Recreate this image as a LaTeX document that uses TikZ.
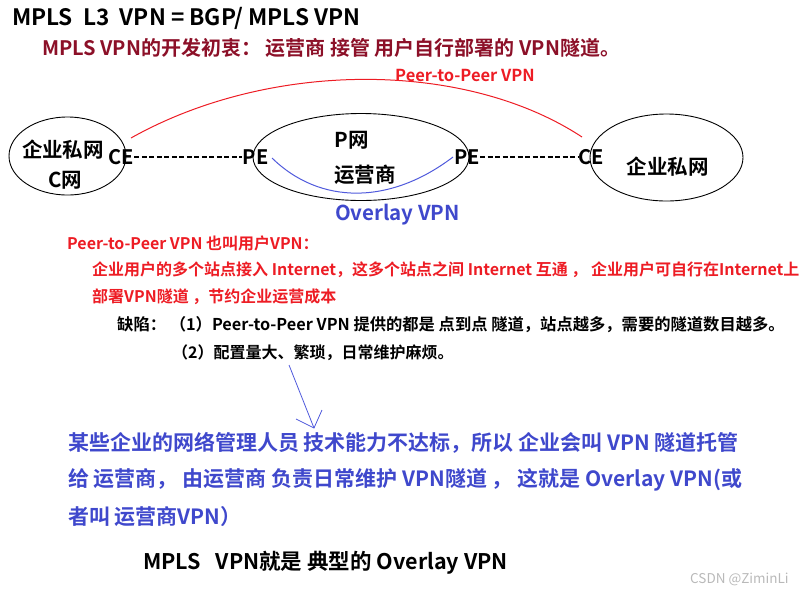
\documentclass[tikz,border=0pt]{standalone}
\usepackage{fontspec}
\setmainfont{Noto Sans CJK SC}[BoldFont={Noto Sans CJK SC Bold}]
\usetikzlibrary{shapes.geometric}
\definecolor{darkred}{RGB}{140,16,40}
\definecolor{pred}{RGB}{237,28,36}
\definecolor{pblue}{RGB}{63,72,204}
\definecolor{cblue}{RGB}{80,90,220}
\definecolor{wm}{RGB}{185,185,185}
\begin{document}
\begin{tikzpicture}[x=1pt,y=-1pt,
  txt/.style={inner sep=0pt,anchor=west,font=\bfseries},
  net/.style={draw,ellipse,line width=0.9pt,inner sep=0pt},
  dev/.style={inner sep=0pt,font=\bfseries\fontsize{20}{22}\selectfont},
  lbl/.style={inner sep=0pt,font=\bfseries\fontsize{20.5}{24}\selectfont},
  link/.style={line width=1.6pt,dash pattern=on 5pt off 2.5pt}]
\useasboundingbox (0,0) rectangle (804,595);
% titles
\node[txt,font=\bfseries\fontsize{22.6}{26}\selectfont] (title) at (12,18) {MPLS\ \ L3\ \ VPN = BGP/ MPLS VPN};
\node[txt,text=darkred,font=\bfseries\fontsize{20}{24}\selectfont] (goal) at (42,48) {MPLS VPN的开发初衷： 运营商 接管 用户自行部署的 VPN隧道。};
% networks
\node[net,minimum width=117pt,minimum height=78pt] (cl) at (67.5,156) {};
\node[net,minimum width=216pt,minimum height=87pt] (pn) at (361,157) {};
\node[net,minimum width=153pt,minimum height=87pt] (cr) at (666.5,157.5) {};
\node[lbl] (cltxt1) at (63,150) {企业私网};
\node[lbl] (cltxt2) at (65,180) {C网};
\node[lbl] (pntxt1) at (351.5,140) {P网};
\node[lbl] (pntxt2) at (365,175) {运营商};
\node[lbl] (crtxt) at (667.5,167) {企业私网};
\node[dev] (ce1) at (121.5,157) {CE};
\node[dev] (pe1) at (255.5,157) {PE};
\node[dev] (pe2) at (467,157) {PE};
\node[dev] (ce2) at (591.5,157) {CE};
\draw[link] (ce1.east) -- (pe1.west);
\draw[link] (pe2.east) -- (ce2.west);
% tunnels
\coordinate (r1) at (131,138);
\coordinate (r2) at (582,137);
\draw[pred,line width=1pt] (r1) .. controls (270,60) and (465,60) .. (r2);
\node[txt,text=pred,font=\bfseries\fontsize{16.5}{19}\selectfont] (p2p) at (395,75) {Peer-to-Peer VPN};
\coordinate (b1) at (272,158);
\coordinate (b2) at (453,157);
\draw[cblue,line width=1pt] (b1) .. controls (320,205) and (390,205) .. (b2);
\node[inner sep=0pt,text=pblue,font=\bfseries\fontsize{20.5}{24}\selectfont] (ovl) at (397.5,215) {Overlay VPN};
% red block
\node[txt,text=pred,font=\bfseries\fontsize{16}{19}\selectfont] (l1) at (67,243) {Peer-to-Peer VPN 也叫用户VPN：};
\node[txt,text=pred,font=\bfseries\fontsize{16}{19}\selectfont] (l2) at (92,270) {企业用户的多个站点接入 Internet，这多个站点之间 Internet 互通 ， 企业用户可自行在Internet上};
\node[txt,text=pred,font=\bfseries\fontsize{16}{19}\selectfont] (l3) at (92,297) {部署VPN隧道 ，节约企业运营成本};
\node[txt,font=\bfseries\fontsize{16.3}{19}\selectfont] (l4) at (117,325) {缺陷： （1）Peer-to-Peer VPN 提供的都是 点到点 隧道，站点越多，需要的隧道数目越多。};
\node[txt,font=\bfseries\fontsize{16}{19}\selectfont] (l5) at (172,353) {（2）配置量大、繁琐，日常维护麻烦。};
% arrow
\coordinate (a0) at (289,365);
\coordinate (a1) at (314,428);
\coordinate (a2) at (296,419);
\coordinate (a3) at (322,410);
\draw[cblue,line width=0.8pt] (a0) -- (a1);
\draw[cblue,line width=0.8pt] (a2) -- (a1) -- (a3);
% blue block
\node[txt,text=pblue,font=\bfseries\fontsize{21}{25}\selectfont] (m1) at (68,443) {某些企业的网络管理人员 技术能力不达标，所以 企业会叫 VPN 隧道托管};
\node[txt,text=pblue,font=\bfseries\fontsize{21}{25}\selectfont] (m2) at (68,480) {给 运营商， 由运营商 负责日常维护 VPN隧道 ， 这就是 Overlay VPN(或};
\node[txt,text=pblue,font=\bfseries\fontsize{21}{25}\selectfont] (m3) at (68,517) {者叫 运营商VPN）};
\node[txt,font=\bfseries\fontsize{21.5}{25}\selectfont] (last) at (143,563) {MPLS\ \ \ VPN就是 典型的 Overlay VPN};
\node[txt,text=wm,font=\fontsize{13.5}{16}\selectfont] (wmk) at (690,579) {CSDN @ZiminLi};
\end{tikzpicture}
\end{document}
